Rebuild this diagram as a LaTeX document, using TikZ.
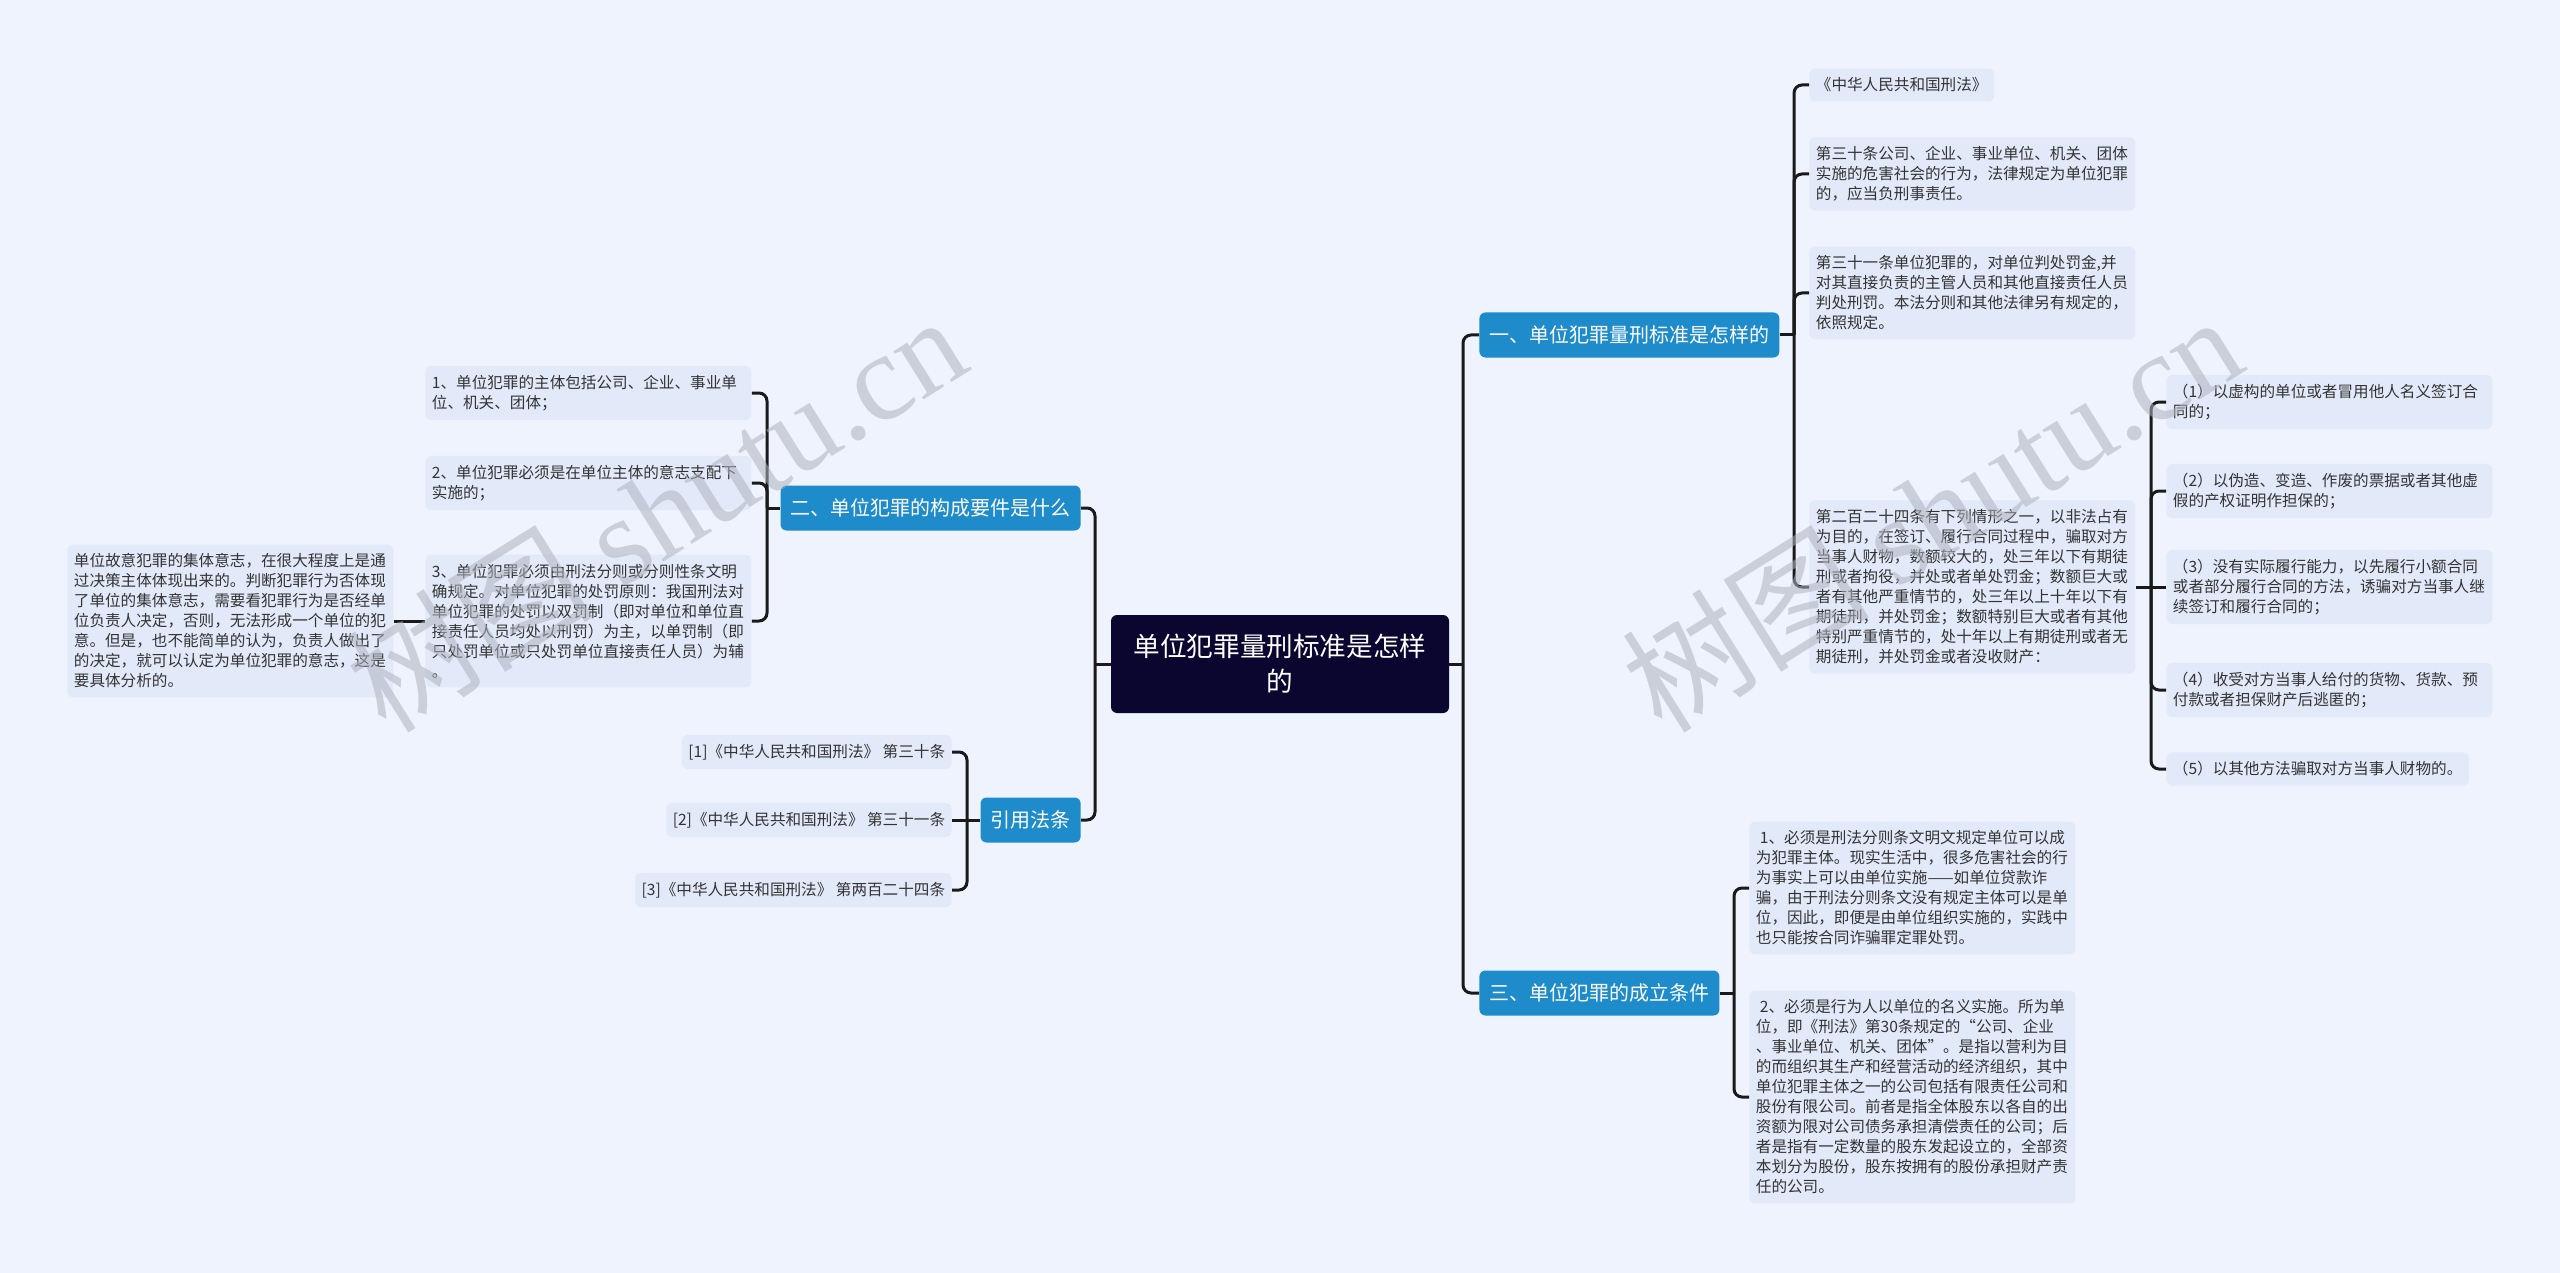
\documentclass[tikz,border=0pt]{standalone}
\usepackage{fontspec}
\setmainfont{Noto Sans CJK SC}
\newfontfamily\wmlatin{Liberation Serif}
\definecolor{bgc}{HTML}{EEF3FD}
\definecolor{leafc}{HTML}{E2EAF9}
\definecolor{bluec}{HTML}{1E8BCB}
\definecolor{rootc}{HTML}{0B0630}
\definecolor{linec}{HTML}{1A1A1A}
\definecolor{txtc}{HTML}{333333}
\definecolor{wmc}{HTML}{AEB3BD}
\tikzset{
  leafbase/.style={fill=leafc, rounded corners=3pt, inner xsep=3.25pt, inner ysep=4.6pt,
    align=left, font=\fontsize{7.8pt}{10pt}\selectfont, text=txtc},
  leaf/.style={leafbase, text width=156.5pt},
  leafn/.style={leafbase},
  branch/.style={fill=bluec, rounded corners=3pt, text=white,
    font=\fontsize{10pt}{12pt}\selectfont, minimum height=22.5pt, inner xsep=5pt},
  rootbox/.style={fill=rootc, rounded corners=3pt, text=white, align=center,
    font=\fontsize{13.3pt}{17.5pt}\selectfont, minimum width=169pt, minimum height=49pt},
  conn/.style={draw=linec, line width=1.5pt, rounded corners=4pt},
  wmark/.style={rotate=32, text=wmc, opacity=0.55, font=\fontsize{62pt}{62pt}\selectfont}
}
\begin{document}
\begin{tikzpicture}[x=0.5pt,y=-0.5pt]
\useasboundingbox (0,0) rectangle (2560,1273);
\fill[bgc] (0,0) rectangle (2560,1273);

% root and branches
\node[rootbox] (root) at (1280,664) {单位犯罪量刑标准是怎样\\的};
\node[branch, anchor=west] (b1) at (1479,335) {一、单位犯罪量刑标准是怎样的};
\node[branch, anchor=west] (b3) at (1479,993) {三、单位犯罪的成立条件};
\node[branch, anchor=east] (b2) at (1081,508) {二、单位犯罪的构成要件是什么};
\node[branch, anchor=east] (b4) at (1081,820) {引用法条};

% branch 1 leaves
\node[leafn, anchor=west] (c1) at (1809,85) {《中华人民共和国刑法》};
\node[leaf, anchor=west] (c2) at (1809,174) {第三十条公司、企业、事业单位、机关、团体\\实施的危害社会的行为，法律规定为单位犯罪\\的，应当负刑事责任。};
\node[leaf, anchor=west] (c3) at (1809,293) {第三十一条单位犯罪的，对单位判处罚金,并\\对其直接负责的主管人员和其他直接责任人员\\判处刑罚。本法分则和其他法律另有规定的，\\依照规定。};
\node[leaf, anchor=west] (c4) at (1809,587) {第二百二十四条有下列情形之一，以非法占有\\为目的，在签订、履行合同过程中，骗取对方\\当事人财物，数额较大的，处三年以下有期徒\\刑或者拘役，并处或者单处罚金；数额巨大或\\者有其他严重情节的，处三年以上十年以下有\\期徒刑，并处罚金；数额特别巨大或者有其他\\特别严重情节的，处十年以上有期徒刑或者无\\期徒刑，并处罚金或者没收财产：};

\node[leaf, anchor=west] (s1) at (2166,402) {（1）以虚构的单位或者冒用他人名义签订合\\同的；};
\node[leaf, anchor=west] (s2) at (2166,491) {（2）以伪造、变造、作废的票据或者其他虚\\假的产权证明作担保的；};
\node[leaf, anchor=west] (s3) at (2166,587) {（3）没有实际履行能力，以先履行小额合同\\或者部分履行合同的方法，诱骗对方当事人继\\续签订和履行合同的；};
\node[leaf, anchor=west] (s4) at (2166,690) {（4）收受对方当事人给付的货物、货款、预\\付款或者担保财产后逃匿的；};
\node[leafn, anchor=west] (s5) at (2166,769) {（5）以其他方法骗取对方当事人财物的。};

% branch 3 leaves
\node[leaf, anchor=west] (u1) at (1749,888) {\hspace{2pt}1、必须是刑法分则条文明文规定单位可以成\\为犯罪主体。现实生活中，很多危害社会的行\\为事实上可以由单位实施——如单位贷款诈\\骗，由于刑法分则条文没有规定主体可以是单\\位，因此，即便是由单位组织实施的，实践中\\也只能按合同诈骗罪定罪处罚。};
\node[leaf, anchor=west] (u2) at (1749,1097) {\hspace{2pt}2、必须是行为人以单位的名义实施。所为单\\位，即《刑法》第30条规定的“公司、企业\\、事业单位、机关、团体”。是指以营利为目\\的而组织其生产和经营活动的经济组织，其中\\单位犯罪主体之一的公司包括有限责任公司和\\股份有限公司。前者是指全体股东以各自的出\\资额为限对公司债务承担清偿责任的公司；后\\者是指有一定数量的股东发起设立的，全部资\\本划分为股份，股东按拥有的股份承担财产责\\任的公司。};

% branch 2 leaves
\node[leaf, anchor=west] (l1) at (425,393) {1、单位犯罪的主体包括公司、企业、事业单\\位、机关、团体；};
\node[leaf, anchor=west] (l2) at (425,483) {2、单位犯罪必须是在单位主体的意志支配下\\实施的；};
\node[leaf, anchor=west] (l3) at (425,621) {3、单位犯罪必须由刑法分则或分则性条文明\\确规定。对单位犯罪的处罚原则：我国刑法对\\单位犯罪的处罚以双罚制（即对单位和单位直\\接责任人员均处以刑罚）为主，以单罚制（即\\只处罚单位或只处罚单位直接责任人员）为辅\\。};
\node[leaf, anchor=west] (lm) at (67,621) {单位故意犯罪的集体意志，在很大程度上是通\\过决策主体体现出来的。判断犯罪行为否体现\\了单位的集体意志，需要看犯罪行为是否经单\\位负责人决定，否则，无法形成一个单位的犯\\意。但是，也不能简单的认为，负责人做出了\\的决定，就可以认定为单位犯罪的意志，这是\\要具体分析的。};

% branch 4 leaves
\node[leafn, anchor=east] (r1) at (952,752) {[1]《中华人民共和国刑法》 第三十条};
\node[leafn, anchor=east] (r2) at (952,820) {[2]《中华人民共和国刑法》 第三十一条};
\node[leafn, anchor=east] (r3) at (952,890) {[3]《中华人民共和国刑法》 第两百二十四条};

% junctions
\coordinate (jR) at (1463,664);
\coordinate (jL) at (1095,664);
\coordinate (j1) at (1794,335);
\coordinate (j4) at (2151,587);
\coordinate (j3) at (1734,993);
\coordinate (j2) at (767,508);
\coordinate (j5) at (967,820);

% connectors
\draw[conn] (root.east) -- (jR);
\draw[conn] (jR) |- (b1.west);
\draw[conn] (jR) |- (b3.west);
\draw[conn] (root.west) -- (jL);
\draw[conn] (jL) |- (b2.east);
\draw[conn] (jL) |- (b4.east);

\draw[conn] (b1.east) -- (j1);
\draw[conn] (j1) |- (c1.west);
\draw[conn] (j1) |- (c2.west);
\draw[conn] (j1) |- (c3.west);
\draw[conn] (j1) |- (c4.west);

\draw[conn] (c4.east) -- (j4);
\draw[conn] (j4) |- (s1.west);
\draw[conn] (j4) |- (s2.west);
\draw[conn] (j4) -- (s3.west);
\draw[conn] (j4) |- (s4.west);
\draw[conn] (j4) |- (s5.west);

\draw[conn] (b3.east) -- (j3);
\draw[conn] (j3) |- (u1.west);
\draw[conn] (j3) |- (u2.west);

\draw[conn] (b2.west) -- (j2);
\draw[conn] (j2) |- (l1.east);
\draw[conn] (j2) |- (l2.east);
\draw[conn] (j2) |- (l3.east);
\draw[conn] (l3.west) -- (lm.east);

\draw[conn] (b4.west) -- (j5);
\draw[conn] (j5) |- (r1.east);
\draw[conn] (j5) -- (r2.east);
\draw[conn] (j5) |- (r3.east);

% watermarks
\node[wmark] (wm1) at (655,512) {树图 {\wmlatin shutu.cn}};
\node[wmark] (wm2) at (1931,512) {树图 {\wmlatin shutu.cn}};
\end{tikzpicture}
\end{document}
